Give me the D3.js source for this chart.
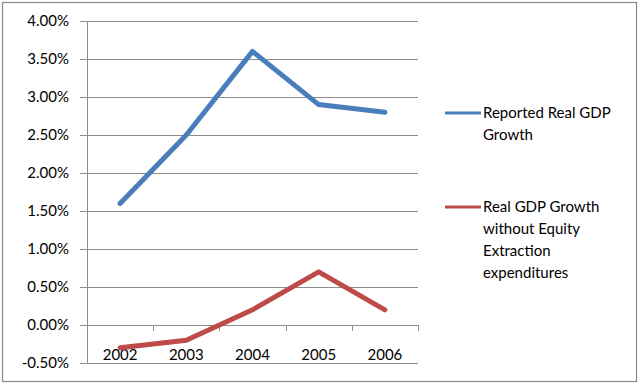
<!DOCTYPE html>
<html>
<head>
<meta charset="utf-8">
<script src="https://cdn.jsdelivr.net/npm/d3@7"></script>
<style>
  body { margin: 0; background: #fff; }
  text { font-family: Lato, 'Open Sans', sans-serif; fill: #000; }
</style>
</head>
<body>
<svg id="chart" width="640" height="385"></svg>
<script>
const years = ['2002', '2003', '2004', '2005', '2006'];
const reported = [1.6, 2.5, 3.6, 2.9, 2.8];
const withoutEquity = [-0.3, -0.2, 0.2, 0.7, 0.2];
const yTicks = [-0.5, 0, 0.5, 1, 1.5, 2, 2.5, 3, 3.5, 4];
const series = [
    { name: ['Reported Real GDP', 'Growth'], values: reported, color: '#4a7ebb', legendY: 113 },
    { name: ['Real GDP Growth', 'without Equity', 'Extraction', 'expenditures'], values: withoutEquity, color: '#be4b48', legendY: 207 }
];

const plot = { left: 87, right: 418, top: 21, bottom: 363 };
const svg = d3.select('#chart');

// outer frame
svg.append('rect')
    .attr('x', 2.5).attr('y', 2.5)
    .attr('width', 634).attr('height', 379)
    .attr('fill', 'none')
    .attr('stroke', '#8c8c8c')
    .attr('stroke-width', 1.2);

const x = d3.scaleBand().domain(years).range([plot.left, plot.right]);
const y = d3.scaleLinear().domain([-0.5, 4]).range([plot.bottom, plot.top]);

// gridlines + y axis
const yAxis = svg.append('g')
    .attr('transform', `translate(${plot.left},0)`)
    .call(d3.axisLeft(y).tickValues(yTicks).tickSize(7).tickPadding(11)
        .tickFormat(d => d.toFixed(2) + '%'));
yAxis.select('.domain').attr('stroke', '#8c8c8c');
yAxis.selectAll('.tick line').attr('stroke', '#8c8c8c');
yAxis.selectAll('.tick text').style('font-size', '15px');

svg.append('g')
    .selectAll('line')
    .data(yTicks)
    .enter()
    .append('line')
        .attr('x1', plot.left).attr('x2', plot.right)
        .attr('y1', d => Math.round(y(d)) + 0.5).attr('y2', d => Math.round(y(d)) + 0.5)
        .attr('stroke', '#8c8c8c')
        .attr('stroke-width', 1);

// x axis at zero with boundary ticks
const boundaries = years.map(d => x(d)).concat([plot.right]);
svg.append('g')
    .selectAll('line')
    .data(boundaries)
    .enter()
    .append('line')
        .attr('x1', d => Math.round(d) + 0.5).attr('x2', d => Math.round(d) + 0.5)
        .attr('y1', y(0)).attr('y2', y(0) + 6)
        .attr('stroke', '#8c8c8c');

svg.append('g')
    .selectAll('text')
    .data(years)
    .enter()
    .append('text')
        .attr('x', d => x(d) + x.bandwidth() / 2)
        .attr('y', 355)
        .attr('dy', '0.35em')
        .attr('text-anchor', 'middle')
        .style('font-size', '15px')
        .text(d => d);

// lines
const line = d3.line()
    .x((d, i) => x(years[i]) + x.bandwidth() / 2)
    .y(d => y(d));

svg.append('g')
    .selectAll('path')
    .data(series)
    .enter()
    .append('path')
        .attr('d', d => line(d.values))
        .attr('fill', 'none')
        .attr('stroke', d => d.color)
        .attr('stroke-width', 5)
        .attr('stroke-linejoin', 'round')
        .attr('stroke-linecap', 'round');

// legend
const legend = svg.append('g')
    .selectAll('g')
    .data(series)
    .enter()
    .append('g');

legend.append('line')
    .attr('x1', 445).attr('x2', 481)
    .attr('y1', d => d.legendY).attr('y2', d => d.legendY)
    .attr('stroke', d => d.color)
    .attr('stroke-width', 3);

legend.append('text')
    .attr('x', 483)
    .attr('y', d => d.legendY)
    .style('font-size', '15px')
    .selectAll('tspan')
    .data(d => d.name)
    .enter()
    .append('tspan')
        .attr('x', 483)
        .attr('dy', (d, i) => i === 0 ? '0.35em' : '22px')
        .text(d => d);
</script>
</body>
</html>
